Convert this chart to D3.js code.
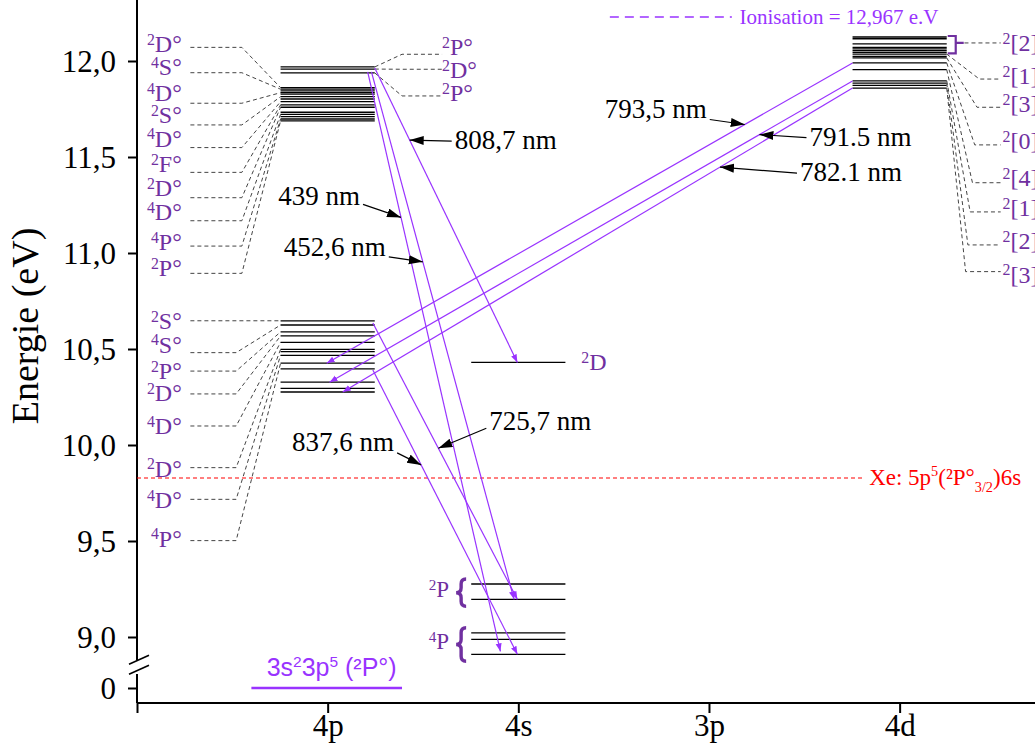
<!DOCTYPE html>
<html><head><meta charset="utf-8">
<script src="https://cdn.jsdelivr.net/npm/d3@7"></script>
<style>body{margin:0;background:#fff}svg{display:block}</style>
</head><body>
<svg id="c" width="1035" height="746"></svg>
<script>
// ---------------- DATA ----------------
const categories = ["4p", "4s", "3p", "4d"];
const yTickValues = [9.0, 9.5, 10.0, 10.5, 11.0, 11.5, 12.0];
const yTickLabels = ["9,0", "9,5", "10,0", "10,5", "11,0", "11,5", "12,0"];
const groundTickLabel = "0";
const yTitle = "Energie (eV)";

const groundEnergy = 0;
const groundParts = [["3s",""],["2","sup"],["3p",""],["5","sup"],[" (²P°)",""]];
const ionisationLabel = "Ionisation = 12,967 e.V";
const xeEnergy = 9.828;
const xeParts = [["Xe: 5p",""],["5","sup"],["(²P°",""],["3/2","sub"],[")6s",""]];

// energy levels (eV)
const levels4pUpper = [11.969, 11.958, 11.938, 11.861, 11.853, 11.844, 11.835, 11.827, 11.814, 11.802, 11.788, 11.771, 11.759, 11.733, 11.722, 11.710, 11.698, 11.688];
const levels4pLower = [10.647, 10.625, 10.589, 10.568, 10.535, 10.498, 10.486, 10.467, 10.426, 10.396, 10.327, 10.295, 10.276];
const levels4s2D = [10.43];
const levels4s2P = [9.276, 9.196];
const levels4s4P = [9.022, 8.988, 8.910];
const levels4d = [12.125, 12.116, 12.089, 12.071, 12.063, 12.054, 12.045, 12.036, 12.024, 12.016, 11.990, 11.955, 11.897, 11.885, 11.873, 11.859];

// term labels: term, energy of its leader line, index of level reached
const terms4pUpperLeft = ["2D°", "4S°", "4D°", "2S°", "4D°", "2F°", "2D°", "4D°", "4P°", "2P°"];
const terms4pUpperLeftE = [12.071, 11.939, 11.780, 11.667, 11.549, 11.420, 11.288, 11.168, 11.036, 10.894];
const terms4pUpperLeftTo = [3, 4, 6, 8, 10, 11, 12, 14, 16, 17];

const terms4pUpperRight = ["2P°", "2D°", "2P°"];
const terms4pUpperRightE = [12.035, 11.957, 11.818];
const terms4pUpperRightTo = [0, 1, 2];

const terms4pLowerLeft = ["2S°", "4S°", "2P°", "2D°", "4D°", "2D°", "4D°", "4P°"];
const terms4pLowerLeftE = [10.647, 10.481, 10.385, 10.266, 10.099, 9.882, 9.717, 9.502];
const terms4pLowerLeftTo = [0, 1, 2, 3, 4, 5, 7, 8];

const terms4dRight = ["2[2]", "2[1]", "2[3]", "2[0]", "2[4]", "2[1]", "2[2]", "2[3]"];
const terms4dRightE = [12.094, 11.906, 11.759, 11.563, 11.366, 11.214, 11.042, 10.903];
const terms4dRightTo = [-1, 7, 9, 10, 11, 12, 13, 15];

const term4s2D = "2D", term4s2P = "2P", term4s4P = "4P";

// transitions: label, from [column, energy, position along bar -1..1], to [...]
const transitions = [
  {label: "808,7 nm", from: ["4p", 11.964, 1.0], to: ["4s", 10.43, -0.02]},
  {label: "439 nm",   from: ["4p", 11.943, 0.85], to: ["4s", 8.925, -0.38]},
  {label: "452,6 nm", from: ["4p", 11.943, 0.93], to: ["4s", 9.196, -0.09]},
  {label: "725,7 nm", from: ["4p", 10.635, 0.96], to: ["4s", 9.196, -0.02]},
  {label: "837,6 nm", from: ["4p", 10.391, 0.96], to: ["4s", 8.910, -0.02]},
  {label: "793,5 nm", from: ["4d", 11.990, -1.0], to: ["4p", 10.426, -0.02]},
  {label: "791.5 nm", from: ["4d", 11.896, -1.0], to: ["4p", 10.327, 0.04]},
  {label: "782.1 nm", from: ["4d", 11.859, -1.0], to: ["4p", 10.276, 0.32]}
];
// where along each transition the wavelength pointer lands (0..1)
const pointerAt = [0.245, 0.251, 0.36, 0.453, 0.334, 0.205, 0.178, 0.26];

// ---------------- LAYOUT ----------------
const svg = d3.select("#c");
const serif = "'Liberation Serif','Times New Roman',serif";
const sans = "'Liberation Sans',Arial,sans-serif";
const termColor = "#7030a0";
const lineColor = "#9933ff";
const termSize = 24;

const x = d3.scaleLinear().domain([0, 4.71]).range([137, 1035]);
const unit = x(1) - x(0);
const yUp = d3.scaleLinear().domain([9, 12]).range([637, 61]);
const yLow = d3.scaleLinear().domain([0, 1]).range([688, 637]);
const y = e => e >= 5 ? yUp(e) : yLow(e);
const col = c => x(categories.indexOf(c) + 1);
const half = 0.247 * unit;

const defs = svg.append("defs");
defs.append("marker").attr("id", "pa").attr("markerUnits", "userSpaceOnUse")
  .attr("markerWidth", 9).attr("markerHeight", 7).attr("refX", 8).attr("refY", 3)
  .attr("orient", "auto").append("path").attr("d", "M0,0L8,3L0,6Z").attr("fill", lineColor);
defs.append("marker").attr("id", "ba").attr("markerUnits", "userSpaceOnUse")
  .attr("markerWidth", 16).attr("markerHeight", 10).attr("refX", 14).attr("refY", 4.5)
  .attr("orient", "auto").append("path").attr("d", "M0,0L14,4.5L0,9Z").attr("fill", "#000");

function addTerm(g, term, px, py, size, anchor) {
  const t = g.append("text").attr("x", px).attr("y", py).attr("font-family", serif)
    .attr("font-size", size).attr("fill", termColor).attr("text-anchor", anchor);
  t.append("tspan").attr("font-size", size * 0.66).attr("dy", -size * 0.3).text(term[0]);
  t.append("tspan").attr("dy", size * 0.3).text(term.slice(1));
  return t;
}
function richText(g, parts, px, py, size, fam, color, anchor) {
  const t = g.append("text").attr("x", px).attr("y", py).attr("font-family", fam)
    .attr("font-size", size).attr("fill", color).attr("text-anchor", anchor || "start");
  let shift = 0;
  parts.forEach(([s, kind]) => {
    const target = kind === "sup" ? -size * 0.38 : kind === "sub" ? size * 0.3 : 0;
    t.append("tspan").attr("dy", target - shift)
      .attr("font-size", kind ? size * 0.62 : size).text(s);
    shift = target;
  });
  return t;
}

// ---- axes ----
const axG = svg.append("g");
const yAxis = d3.axisLeft(yUp).tickValues(yTickValues).tickFormat((d, i) => yTickLabels[i]).tickSize(9).tickPadding(12);
const yg = axG.append("g").attr("transform", `translate(${x(0)},0)`).call(yAxis);
const yAxis0 = d3.axisLeft(yLow).tickValues([groundEnergy]).tickFormat(() => groundTickLabel).tickSize(9).tickPadding(12);
const yg0 = axG.append("g").attr("transform", `translate(${x(0)},0)`).call(yAxis0);
const xAxis = d3.axisBottom(x).tickValues([0, 1, 2, 3, 4]).tickFormat(d => d ? categories[d - 1] : "").tickSize(10).tickPadding(1);
const xg = axG.append("g").attr("transform", `translate(0,703)`).call(xAxis);
[yg, yg0, xg].forEach(g => {
  g.select(".domain").remove();
  g.selectAll("line").attr("stroke", "#000").attr("stroke-width", 2);
  g.selectAll("text").attr("font-family", serif).attr("font-size", 31).attr("fill", "#000");
});
yg.selectAll("text").attr("dy", "0.35em");
yg0.selectAll("text").attr("dy", "0.35em");
// axis lines with break
axG.append("line").attr("x1", x(0)).attr("x2", x(0)).attr("y1", 0).attr("y2", y(8.9) + 4).attr("stroke", "#000").attr("stroke-width", 2);
axG.append("line").attr("x1", x(0)).attr("x2", x(0)).attr("y1", y(0) - 14).attr("y2", 703).attr("stroke", "#000").attr("stroke-width", 2);
axG.append("line").attr("x1", x(0)).attr("x2", 1035).attr("y1", 703).attr("y2", 703).attr("stroke", "#000").attr("stroke-width", 2);
[0, 10].forEach(o => axG.append("line").attr("x1", x(0) - 8).attr("y1", y(8.9) + 8 + o)
  .attr("x2", x(0) + 12).attr("y2", y(8.9) - 1 + o).attr("stroke", "#000").attr("stroke-width", 1.6));
svg.append("text").attr("transform", `translate(38,${(yUp(12) + yUp(9.5)) / 2 + 25}) rotate(-90)`)
  .attr("text-anchor", "middle").attr("font-family", serif).attr("font-size", 38).text(yTitle);

// ---- reference lines ----
svg.append("line").attr("x1", x(0)).attr("x2", x(3.81)).attr("y1", y(xeEnergy)).attr("y2", y(xeEnergy))
  .attr("stroke", "#ff0000").attr("stroke-width", 1.2).attr("stroke-dasharray", "4,3");
richText(svg, xeParts, x(3.84), y(xeEnergy) + 7, 23, serif, "#ff0000");
svg.append("line").attr("x1", x(2.48)).attr("x2", x(3.12)).attr("y1", 17).attr("y2", 17)
  .attr("stroke", lineColor).attr("stroke-width", 1.6).attr("stroke-dasharray", "9,6");
svg.append("text").attr("x", x(3.16)).attr("y", 24).attr("font-family", serif).attr("font-size", 21)
  .attr("fill", lineColor).text(ionisationLabel);

// ground level
svg.append("line").attr("x1", col("4p") - 0.4 * unit).attr("x2", col("4p") + 0.39 * unit)
  .attr("y1", y(groundEnergy)).attr("y2", y(groundEnergy)).attr("stroke", lineColor).attr("stroke-width", 2.5);
richText(svg, groundParts, col("4p") + 4, y(groundEnergy) - 12, 25, sans, lineColor, "middle");

// ---- levels ----
const lv = svg.append("g").attr("stroke", "#000").attr("stroke-width", 1.3);
function drawLevels(arr, c) {
  lv.selectAll(null).data(arr).enter().append("line")
    .attr("x1", col(c) - half).attr("x2", col(c) + half)
    .attr("y1", d => y(d)).attr("y2", d => y(d));
}
drawLevels(levels4pUpper, "4p");
drawLevels(levels4pLower, "4p");
drawLevels(levels4s2D, "4s");
drawLevels(levels4s2P, "4s");
drawLevels(levels4s4P, "4s");
drawLevels(levels4d, "4d");

// ---- connectors & term labels ----
const cg = svg.append("g").attr("fill", "none").attr("stroke", "#444").attr("stroke-width", 1).attr("stroke-dasharray", "4,3");
const tg = svg.append("g");
function leftGroup(terms, es, to, levels, c, knee, dys) {
  terms.forEach((t, i) => {
    const yl = y(es[i]), yt = y(levels[to[i]]);
    const xs = col(c) - 0.72 * unit, xk = col(c) + knee * unit, xb = col(c) - half;
    cg.append("path").attr("d", `M${xs},${yl}L${Math.max(xk, xs)},${yl}L${xb},${yt}`);
    addTerm(tg, t, col(c) - 0.765 * unit, yl + dys[i], termSize, "end");
  });
}
leftGroup(terms4pUpperLeft, terms4pUpperLeftE, terms4pUpperLeftTo, levels4pUpper, "4p", -0.45,
  [5, 2, -2, -2, -1, 0, -2, -1, 4, 3]);
leftGroup(terms4pLowerLeft, terms4pLowerLeftE, terms4pLowerLeftTo, levels4pLower, "4p", -0.48,
  [8, 0, 8, 7, 8, 9, 9, 6]);

const upRightDy = [1, 9, 5];
terms4pUpperRight.forEach((t, i) => {
  const yl = y(terms4pUpperRightE[i]), yt = y(levels4pUpper[terms4pUpperRightTo[i]]);
  cg.append("path").attr("d", `M${col("4p") + half},${yt}L${col("4p") + 0.39 * unit},${yl}L${col("4p") + 0.6 * unit},${yl}`);
  addTerm(tg, t, col("4p") + 0.6 * unit, yl + upRightDy[i], termSize, "start");
});

const dRightDy = [5, 2, 2, 1, 0, 1, 1, 8].map(v => v + 3);
terms4dRight.forEach((t, i) => {
  const yl = y(terms4dRightE[i]);
  const xe = col("4d") + 0.53 * unit;
  if (terms4dRightTo[i] < 0) {
    cg.append("path").attr("d", `M${col("4d") + 0.34 * unit},${yl}L${xe},${yl}`);
  } else {
    const yt = y(levels4d[terms4dRightTo[i]]);
    const kx = col("4d") + (0.43 - i * 0.012) * unit;
    cg.append("path").attr("d", `M${col("4d") + half},${yt}L${kx},${yl}L${xe},${yl}`);
  }
  addTerm(tg, t, col("4d") + 0.54 * unit, yl + dRightDy[i], termSize, "start");
});
// bracket for the first 4d term
{
  const y0 = y(levels4d[0]) - 1, y1 = y(levels4d[6]) + 1, xb = col("4d") + half + 1, ym = y(terms4dRightE[0]);
  svg.append("path").attr("d", `M${xb},${y0}L${xb + 8},${y0}L${xb + 8},${y1}L${xb},${y1}M${xb + 8},${ym}L${xb + 16},${ym}`)
    .attr("fill", "none").attr("stroke", termColor).attr("stroke-width", 2.2);
}

// 4s labels
addTerm(tg, term4s2D, col("4s") + 0.33 * unit, y(levels4s2D[0]) + 8, termSize, "start");
function brace(xx, y0, y1, w) {
  const ym = (y0 + y1) / 2;
  return `M${xx + w},${y0}Q${xx},${y0} ${xx},${y0 + w}L${xx},${ym - w}Q${xx},${ym} ${xx - w},${ym}Q${xx},${ym} ${xx},${ym + w}L${xx},${y1 - w}Q${xx},${y1} ${xx + w},${y1}`;
}
[[levels4s2P, term4s2P], [levels4s4P, term4s4P]].forEach(([arr, t]) => {
  const top = y(d3.max(arr)) - 5, bot = y(d3.min(arr)) + 7, bx = col("4s") - 0.3 * unit;
  svg.append("path").attr("d", brace(bx, top, bot, 5)).attr("fill", "none").attr("stroke", termColor).attr("stroke-width", 3.4);
  addTerm(tg, t, bx - 12, (top + bot) / 2 + 4, termSize - 1, "end");
});

// ---- transitions ----
const trg = svg.append("g");
const ends = transitions.map(t => {
  const p = e => [col(e[0]) + e[2] * half, y(e[1])];
  return [p(t.from), p(t.to)];
});
trg.selectAll(null).data(ends).enter().append("line")
  .attr("x1", d => d[0][0]).attr("y1", d => d[0][1]).attr("x2", d => d[1][0]).attr("y2", d => d[1][1])
  .attr("stroke", lineColor).attr("stroke-width", 1.2).attr("marker-end", "url(#pa)");

// ---- wavelength pointers ----
const ptrOffset = [[42, 1], [-38, -13], [-34, -5], [48, -20], [-24, -12], [-35, -5], [47, 3], [77, 6]];
const txtAnchor = ["start", "end", "end", "start", "end", "end", "start", "start"];
const txtDy = [8, 1, -1, 2, -2, -1, 8, 8];
const ag = svg.append("g");
transitions.forEach((t, i) => {
  const [a, b] = ends[i];
  const tip = [a[0] + (b[0] - a[0]) * pointerAt[i], a[1] + (b[1] - a[1]) * pointerAt[i]];
  const tail = [tip[0] + ptrOffset[i][0], tip[1] + ptrOffset[i][1]];
  ag.append("line").attr("x1", tail[0]).attr("y1", tail[1]).attr("x2", tip[0]).attr("y2", tip[1])
    .attr("stroke", "#000").attr("stroke-width", 1.2).attr("marker-end", "url(#ba)");
  ag.append("text").attr("x", tail[0] + (txtAnchor[i] === "start" ? 3 : -3)).attr("y", tail[1] + txtDy[i])
    .attr("text-anchor", txtAnchor[i]).attr("font-family", serif).attr("font-size", 27).attr("fill", "#000").text(t.label);
});
</script>
</body></html>
